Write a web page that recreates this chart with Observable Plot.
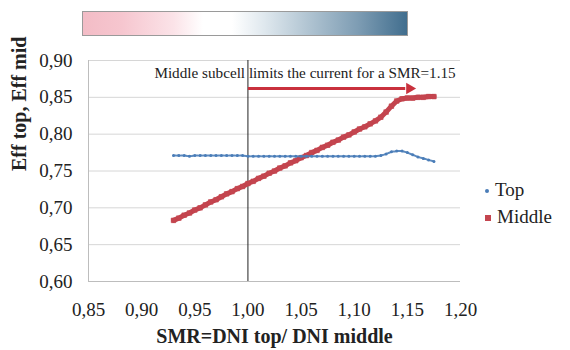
<!DOCTYPE html>
<html>
<head>
<meta charset="utf-8">
<script src="https://cdn.jsdelivr.net/npm/d3@7"></script>
<script src="https://cdn.jsdelivr.net/npm/@observablehq/plot@0.6"></script>
<style>
  html, body { margin: 0; padding: 0; background: #fff; }
  #wrap { position: relative; width: 570px; height: 350px; font-family: "Liberation Serif", serif; }
  #bar { position: absolute; left: 82px; top: 11px; width: 324px; height: 23px; border: 1px solid #9a9a9a;
    background: linear-gradient(to right, #f3bcc6 0%, #f6c6cf 12%, #fbe3e8 28%, #ffffff 37%, #ffffff 46%, #dfe8ee 56%, #afc3d1 70%, #7d9cb3 85%, #416e8e 100%); }
  #legend { position: absolute; left: 485px; top: 176px; font-size: 19px; color: #222; line-height: 27px; }
  #legend span.m { display: inline-block; margin-right: 6px; vertical-align: middle; position: relative; top: -1px; }
</style>
</head>
<body>
<div id="wrap">
  <div id="bar"></div>
  <div id="chart"></div>
  <div id="legend"></div>
</div>
<script>
// ---- data ----
const smr = [0.930,0.935,0.940,0.945,0.950,0.955,0.960,0.965,0.970,0.975,0.980,0.985,0.990,0.995,1.000,1.005,1.010,1.015,1.020,1.025,1.030,1.035,1.040,1.045,1.050,1.055,1.060,1.065,1.070,1.075,1.080,1.085,1.090,1.095,1.100,1.105,1.110,1.115,1.120,1.125,1.130,1.135,1.140,1.145,1.150,1.155,1.160,1.165,1.170,1.175];
const effTop = [0.771,0.771,0.771,0.770,0.771,0.771,0.771,0.771,0.771,0.771,0.771,0.771,0.771,0.771,0.770,0.770,0.770,0.770,0.770,0.770,0.770,0.770,0.770,0.770,0.770,0.770,0.770,0.770,0.770,0.770,0.770,0.770,0.770,0.770,0.770,0.770,0.770,0.770,0.770,0.771,0.773,0.776,0.777,0.777,0.775,0.772,0.769,0.767,0.765,0.763];
const effMid = [0.683,0.686,0.690,0.693,0.697,0.700,0.704,0.708,0.711,0.715,0.719,0.722,0.726,0.729,0.733,0.736,0.740,0.743,0.747,0.750,0.754,0.757,0.761,0.764,0.768,0.771,0.775,0.778,0.782,0.785,0.789,0.792,0.796,0.799,0.803,0.807,0.810,0.814,0.818,0.823,0.830,0.838,0.845,0.848,0.849,0.849,0.850,0.850,0.851,0.851];
const seriesNames = ["Top", "Middle"];
const seriesColors = ["#4a7db8", "#c4454f"];
const xTicks = [0.85,0.90,0.95,1.00,1.05,1.10,1.15,1.20];
const yTicks = [0.60,0.65,0.70,0.75,0.80,0.85,0.90];
const refX = [1.00];
const noteText = ["Middle subcell limits the current for a SMR=1.15"];
const noteX = [0.912];
const noteY = [0.8835];
const arrowX1 = [1.00];
const arrowX2 = [1.152];
const arrowY = [0.862];
const xTitle = ["SMR=DNI top/ DNI middle"];
const yTitle = ["Eff top, Eff mid"];

// ---- build ----
const serif = "Liberation Serif, Times New Roman, serif";
const fmt = v => d3.format(".2f")(v).replace(".", ",");
const topData = smr.map((x, i) => ({x, y: effTop[i]}));
const midData = smr.map((x, i) => ({x, y: effMid[i]}));
const arrow = arrowX1.map((x1, i) => ({x1, x2: arrowX2[i], y: arrowY[i]}));
const note = noteText.map((t, i) => ({t, x: noteX[i], y: noteY[i]}));

const chart = Plot.plot({
  width: 570,
  height: 350,
  marginLeft: 88,
  marginRight: 110,
  marginTop: 60,
  marginBottom: 69,
  style: {fontFamily: serif, fontSize: "19px", color: "#222", background: "transparent"},
  x: {domain: [0.85, 1.20]},
  y: {domain: [0.60, 0.90]},
  marks: [
    Plot.ruleY(yTicks.filter(d => d > 0.60), {y: d => d, stroke: "#d6d6d6", strokeWidth: 1}),
    Plot.ruleY([0.60], {stroke: "#bdbdbd", strokeWidth: 1}),
    Plot.ruleX([0.85], {y1: 0.60, y2: 0.90, stroke: "#bdbdbd", strokeWidth: 1}),
    Plot.axisX({ticks: xTicks, tickFormat: fmt, tickSize: 0, tickPadding: 21, label: null, fontSize: 19, fontFamily: serif, fill: "#222"}),
    Plot.axisY({ticks: yTicks, tickFormat: fmt, tickSize: 0, tickPadding: 16, label: null, fontSize: 19, fontFamily: serif, fill: "#222"}),
    Plot.text(xTitle, {text: d => d, frameAnchor: "bottom", dy: 61, fontSize: 20, fontWeight: "bold", fontFamily: serif, fill: "#222"}),
    Plot.text(yTitle, {text: d => d, frameAnchor: "left", dx: -69, rotate: -90, fontSize: 20, fontWeight: "bold", fontFamily: serif, fill: "#222"}),
    Plot.ruleX(refX, {x: d => d, y1: 0.60, y2: 0.90, stroke: "#222", strokeWidth: 1}),
    Plot.line(midData, {x: "x", y: "y", stroke: seriesColors[1], strokeWidth: 5}),
    Plot.dot(midData, {x: "x", y: "y", symbol: "square", r: 2.6, fill: seriesColors[1], stroke: seriesColors[1], strokeWidth: 0.6}),
    Plot.line(topData, {x: "x", y: "y", stroke: seriesColors[0], strokeWidth: 2, strokeDasharray: "2.5,1.2", strokeOpacity: 0.9}),
    Plot.dot(topData, {x: "x", y: "y", r: 1.5, fill: seriesColors[0]}),
    Plot.link(arrow, {x1: "x1", x2: d => d.x2 - 0.004, y1: "y", y2: "y", stroke: "#c9313d", strokeWidth: 3}),
    Plot.dot(arrow, {x: "x2", y: "y", symbol: "triangle2", rotate: 90, r: 5.5, fill: "#c9313d"}),
    Plot.text(note, {x: "x", y: "y", text: "t", textAnchor: "start", fontSize: 15.2, fontFamily: serif, fill: "#222"})
  ]
});
document.getElementById("chart").appendChild(chart);

const legend = document.getElementById("legend");
seriesNames.forEach((name, i) => {
  const row = document.createElement("div");
  const m = document.createElement("span");
  m.className = "m";
  const s = i === 0 ? 4 : 6;
  m.style.width = s + "px"; m.style.height = s + "px";
  m.style.background = seriesColors[i];
  if (i === 0) m.style.borderRadius = "50%";
  row.appendChild(m);
  row.appendChild(document.createTextNode(name));
  legend.appendChild(row);
});
</script>
</body>
</html>
